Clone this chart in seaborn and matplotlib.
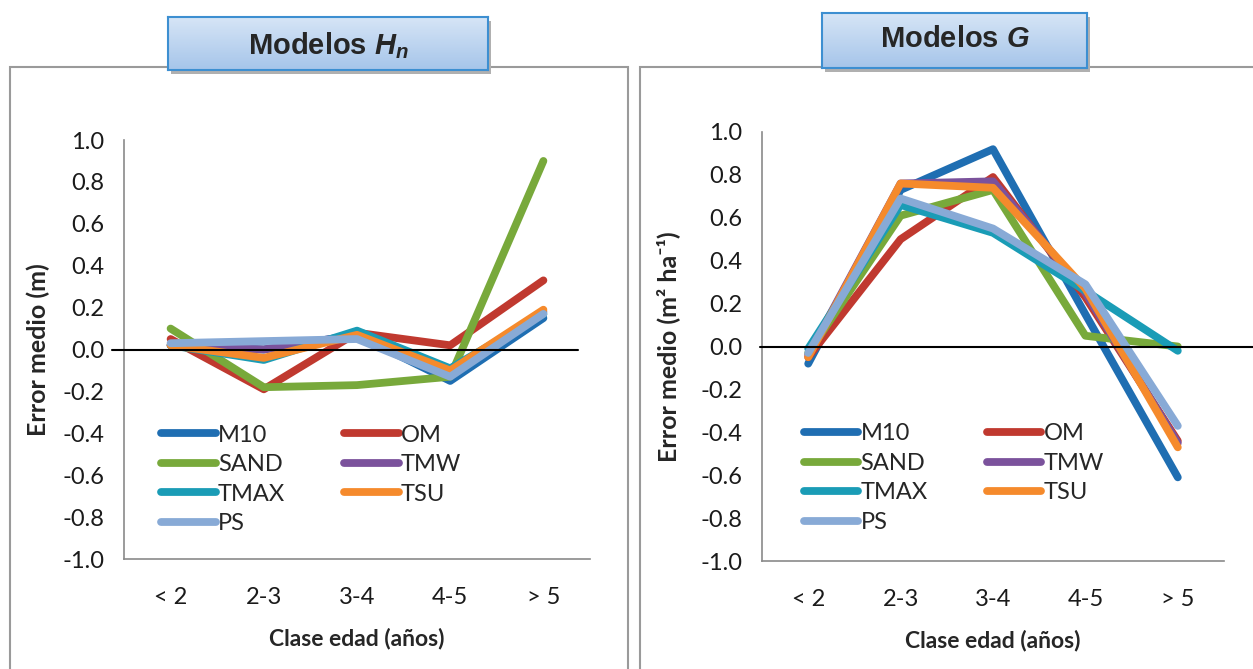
import numpy as np
import pandas as pd
import seaborn as sns
import matplotlib.pyplot as plt
from matplotlib.lines import Line2D
from matplotlib.patches import Rectangle

# categorias de edad y series
clases = ['< 2', '2-3', '3-4', '4-5', '> 5']
modelos = ['M10', 'OM', 'SAND', 'TMW', 'TMAX', 'TSU', 'PS']

# Modelos Hn (error medio en m)
hn_m10 = [0.02, 0.00, 0.07, -0.15, 0.15]
hn_om = [0.05, -0.19, 0.08, 0.02, 0.33]
hn_sand = [0.10, -0.18, -0.17, -0.13, 0.90]
hn_tmw = [0.02, 0.00, 0.07, -0.12, 0.18]
hn_tmax = [0.02, -0.05, 0.09, -0.09, 0.17]
hn_tsu = [0.02, -0.04, 0.07, -0.10, 0.19]
hn_ps = [0.03, 0.04, 0.05, -0.13, 0.17]

# Modelos G (error medio en m2 ha-1)
g_m10 = [-0.08, 0.73, 0.92, 0.15, -0.61]
g_om = [-0.05, 0.50, 0.79, 0.23, -0.44]
g_sand = [-0.03, 0.61, 0.73, 0.05, 0.00]
g_tmw = [-0.04, 0.76, 0.77, 0.25, -0.45]
g_tmax = [-0.01, 0.66, 0.53, 0.26, -0.02]
g_tsu = [-0.05, 0.76, 0.74, 0.27, -0.47]
g_ps = [-0.03, 0.69, 0.55, 0.29, -0.37]

colores = {'M10': '#1f6eb2', 'OM': '#c0392f', 'SAND': '#78a93b', 'TMW': '#7b529c',
           'TMAX': '#1a9cb6', 'TSU': '#f58a2c', 'PS': '#88aad6'}

yticks = [1.0, 0.8, 0.6, 0.4, 0.2, 0.0, -0.2, -0.4, -0.6, -0.8, -1.0]


def a_largo(series):
    filas = []
    for nombre, valores in zip(modelos, series):
        for c, v in zip(clases, valores):
            filas.append({'clase': c, 'modelo': nombre, 'error': v})
    return pd.DataFrame(filas)


df_hn = a_largo([hn_m10, hn_om, hn_sand, hn_tmw, hn_tmax, hn_tsu, hn_ps])
df_g = a_largo([g_m10, g_om, g_sand, g_tmw, g_tmax, g_tsu, g_ps])

sns.set_theme(style='white')
plt.rcParams['font.family'] = ['Lato', 'DejaVu Sans']
plt.rcParams['mathtext.fontset'] = 'custom'
plt.rcParams['mathtext.it'] = 'Liberation Sans:italic:bold'
plt.rcParams['mathtext.rm'] = 'Liberation Sans:bold'

W, H = 1253, 669
fig = plt.figure(figsize=(W / 100, H / 100), dpi=100)
fig.patch.set_facecolor('white')


def px(x0, y0, x1, y1):
    # caja en pixeles (arriba-izquierda) -> fraccion de figura
    return [x0 / W, (H - y1) / H, (x1 - x0) / W, (y1 - y0) / H]


# marcos de los paneles
for x0, x1 in [(10, 628), (640, 1262)]:
    fig.patches.append(Rectangle((x0 / W, -0.05), (x1 - x0) / W, (H - 67) / H + 0.05,
                                 transform=fig.transFigure, fill=False,
                                 edgecolor='#9a9a9a', linewidth=1.5, zorder=0))


def caja_titulo(box, texto, ytxt):
    # sombra
    sx = px(box[0] + 3, box[1] + 4, box[2] + 3, box[3] + 4)
    fig.patches.append(Rectangle((sx[0], sx[1]), sx[2], sx[3], transform=fig.transFigure,
                                 facecolor='#b0b0b0', edgecolor='none', zorder=1))
    tax = fig.add_axes(px(*box), zorder=2)
    grad = np.linspace(0, 1, 100).reshape(-1, 1)
    cmap = sns.blend_palette(['#d6e5f6', '#a6c5ea'], as_cmap=True)
    tax.imshow(grad, aspect='auto', cmap=cmap, extent=[0, 1, 0, 1], origin='upper')
    tax.set_xlim(0, 1)
    tax.set_ylim(0, 1)
    tax.set_xticks([])
    tax.set_yticks([])
    for s in tax.spines.values():
        s.set_visible(True)
        s.set_color('#3d8fd1')
        s.set_linewidth(1.5)
    tax.text(0.5, ytxt, texto, ha='center', va='center', fontsize=21,
             family='Liberation Sans', fontweight='bold', clip_on=True,
             transform=tax.transAxes)


caja_titulo((168, 17, 488, 70), 'Modelos $H_n$', 0.46)
caja_titulo((822, 13, 1087, 68), 'Modelos $G$', 0.52)


def panel(rect, df, ylabel, leg_anchor, zero_span, ypad):
    ax = fig.add_axes(rect, zorder=3)
    ax.patch.set_alpha(0)
    sns.lineplot(data=df, x='clase', y='error', hue='modelo', hue_order=modelos,
                 palette=colores, linewidth=5.6, sort=False, legend=False, ax=ax,
                 solid_capstyle='round', solid_joinstyle='round')
    ax.set_xlim(-0.5, 4.5)
    ax.set_ylim(-1.0, 1.0)
    ax.set_yticks(yticks)
    ax.set_yticklabels([f'{v:.1f}' for v in yticks])
    ax.set_xticks(range(len(clases)))
    ax.set_xticklabels(clases)
    ax.set_xticks(np.arange(-0.5, 5, 1.0), minor=True)
    ax.tick_params(axis='x', which='major', length=0, pad=20, labelsize=17, colors='#1a1a1a')
    ax.tick_params(axis='x', which='minor', length=6, width=1.2, color='#8a8a8a', direction='out')
    ax.tick_params(axis='y', length=7, width=1.2, direction='out', labelsize=17, pad=7,
                   color='#8a8a8a', labelcolor='#1a1a1a')
    for s in ['top', 'right']:
        ax.spines[s].set_visible(False)
    for s in ['left', 'bottom']:
        ax.spines[s].set_color('#8a8a8a')
        ax.spines[s].set_linewidth(1.2)
    ax.axhline(0, xmin=zero_span[0], xmax=zero_span[1], color='black', linewidth=1.5,
               clip_on=False, zorder=10)
    ax.set_xlabel('Clase edad (años)', fontsize=16.5, fontweight='bold', labelpad=14)
    ax.set_ylabel(ylabel, fontsize=18, fontweight='bold', labelpad=ypad)
    orden = ['M10', 'SAND', 'TMAX', 'PS', 'OM', 'TMW', 'TSU']
    handles = [Line2D([], [], color=colores[m], linewidth=5.6, solid_capstyle='round')
                for m in orden]
    ax.legend(handles, orden, ncol=2, loc='upper left', bbox_to_anchor=leg_anchor,
              frameon=False, fontsize=17, handlelength=2.3, handletextpad=0.1,
              labelspacing=0.36, columnspacing=2.5, borderaxespad=0)
    return ax


ax1 = panel(px(124, 140, 590, 559), df_hn, 'Error medio (m)', (0.06, 0.343),
            (-0.026, 0.974), 9)
ax2 = panel(px(762, 132, 1224, 561), df_g, 'Error medio (m² ha⁻¹)', (0.07, 0.343),
            (-0.004, 1.07), 15)

fig.savefig('out.png', dpi=100)
